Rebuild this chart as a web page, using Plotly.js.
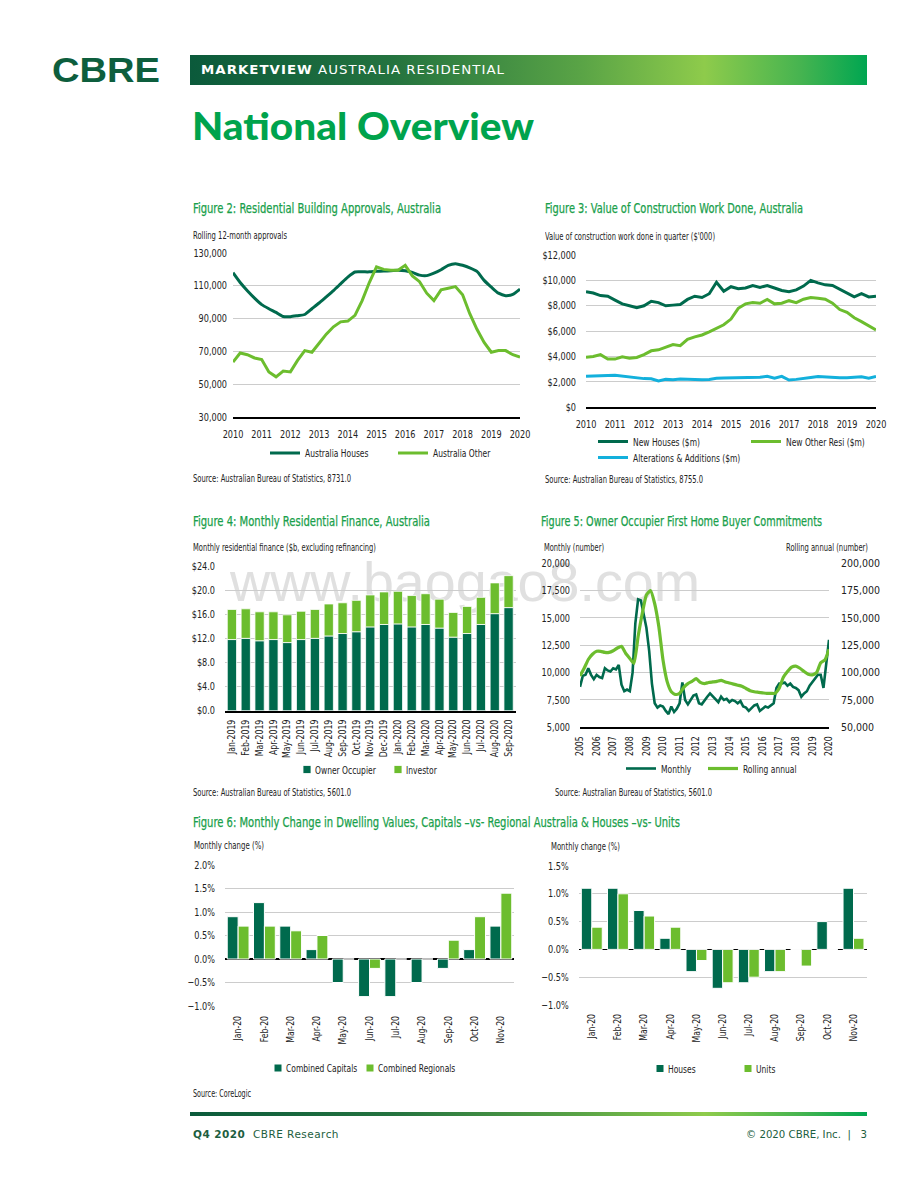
<!DOCTYPE html>
<html><head><meta charset="utf-8">
<script src="https://cdn.plot.ly/plotly-3.0.1.min.js"></script>
<style>
html,body{margin:0;padding:0;background:#fff;}
#page{position:relative;width:920px;height:1191px;overflow:hidden;font-family:"DejaVu Sans Condensed","Liberation Sans Narrow",sans-serif;color:#222;}
.t{position:absolute;white-space:nowrap;transform-origin:0 50%;}
.ttl{color:#19a04b;font-size:14px;line-height:18px;-webkit-text-stroke:0.25px #19a04b;}
.sub{font-size:10.5px;line-height:14px;color:#222;}
.grad{position:absolute;background:linear-gradient(90deg,#0b5a3b 0%,#24733f 30%,#5aa446 58%,#8ecb4b 76%,#47b450 90%,#00a651 100%);}
#plot{position:absolute;left:0;top:0;width:920px;height:1191px;}
</style></head>
<body>
<div id="page">
  <div class="t" id="wm" style="left:230px;top:549px;font:55px/66px 'Liberation Sans',Arial,sans-serif;color:#e0e0e0;" data-w="470">www.baogao8.com</div>
  <div id="plot"></div>

  <div class="t" style="left:52px;top:48px;font:bold 35px/44px 'Liberation Sans',Arial,sans-serif;color:#0d5e3d;" data-w="108">CBRE</div>
  <div class="grad" style="left:190px;top:55px;width:677px;height:30px;"></div>
  <div class="t" style="left:201px;top:62px;font:13px/16px 'DejaVu Sans','Liberation Sans',sans-serif;color:#fff;letter-spacing:1px;" data-w="304"><b>MARKETVIEW</b> AUSTRALIA RESIDENTIAL</div>
  <div class="t" style="left:192px;top:101px;font:900 38px/48px Lato,'DejaVu Sans',sans-serif;color:#00a34c;" data-w="342">National Overview</div>

  <div class="t ttl" style="left:193px;top:199px;" data-w="248">Figure 2: Residential Building Approvals, Australia</div>
  <div class="t sub" style="left:193px;top:228px;" data-w="94">Rolling 12-month approvals</div>
  <div class="t sub" style="left:193px;top:471px;" data-w="158">Source: Australian Bureau of Statistics, 8731.0</div>

  <div class="t ttl" style="left:545px;top:199px;" data-w="258">Figure 3: Value of Construction Work Done, Australia</div>
  <div class="t sub" style="left:545px;top:229px;" data-w="170">Value of construction work done in quarter ($'000)</div>
  <div class="t sub" style="left:545px;top:472px;" data-w="158">Source: Australian Bureau of Statistics, 8755.0</div>

  <div class="t ttl" style="left:193px;top:512px;" data-w="237">Figure 4: Monthly Residential Finance, Australia</div>
  <div class="t sub" style="left:193px;top:540px;" data-w="183">Monthly residential finance ($b, excluding refinancing)</div>
  <div class="t sub" style="left:193px;top:785px;" data-w="158">Source: Australian Bureau of Statistics, 5601.0</div>

  <div class="t ttl" style="left:541px;top:512px;" data-w="281">Figure 5: Owner Occupier First Home Buyer Commitments</div>
  <div class="t sub" style="left:544px;top:540px;" data-w="60">Monthly (number)</div>
  <div class="t sub" style="left:786px;top:540px;" data-w="82">Rolling annual (number)</div>
  <div class="t sub" style="left:555px;top:785px;" data-w="157">Source: Australian Bureau of Statistics, 5601.0</div>

  <div class="t ttl" style="left:193px;top:813px;" data-w="487">Figure 6: Monthly Change in Dwelling Values, Capitals –vs- Regional Australia &amp; Houses –vs- Units</div>
  <div class="t sub" style="left:194px;top:838px;" data-w="70">Monthly change (%)</div>
  <div class="t sub" style="left:551px;top:839px;" data-w="69">Monthly change (%)</div>
  <div class="t sub" style="left:193px;top:1086px;" data-w="58">Source: CoreLogic</div>

  <div class="grad" style="left:190px;top:1112px;width:677px;height:4px;"></div>
  <div class="t" style="left:193px;top:1128px;font:11px/14px 'DejaVu Sans','Liberation Sans',sans-serif;color:#1d5e40;letter-spacing:0.5px;" data-w="146"><b>Q4 2020</b>&nbsp; CBRE Research</div>
  <div class="t" style="left:746px;top:1128px;font:11px/14px 'DejaVu Sans','Liberation Sans',sans-serif;color:#1d5e40;" data-w="121">© 2020 CBRE, Inc. &nbsp;|&nbsp;&nbsp; 3</div>
</div>

<script>
// ---------------- DATA ----------------
// Figure 2: Residential Building Approvals (rolling 12-month), quarterly from 2010
const f2Start = 2010, f2Step = 0.25;
const f2Years = [2010,2011,2012,2013,2014,2015,2016,2017,2018,2019,2020];
const f2Houses = [118000,112000,107000,102500,98500,96000,93800,91300,91200,91800,92500,96000,99500,103300,107100,111200,115300,118400,118500,118500,118800,119000,119200,119500,119200,118200,116500,116200,117700,119800,122500,123500,122500,121000,118800,113300,109200,105500,104000,104800,108000];
const f2Other = [63500,69000,68000,66000,65000,57500,54500,58000,57500,64500,70500,69500,75000,80500,85000,88000,88500,92000,101000,112000,121500,120000,119500,119500,122500,116000,112500,105500,101000,107500,108500,109500,104500,93000,83500,75500,69500,70500,70500,68000,66500];

// Figure 3: Value of Construction Work Done ($m), quarterly from 2010
const f3Start = 2010, f3Step = 0.25;
const f3Years = [2010,2011,2012,2013,2014,2015,2016,2017,2018,2019,2020];
const f3NewHouses = [9100,9000,8800,8750,8450,8150,8000,7850,8000,8350,8250,8000,8050,8100,8500,8750,8650,8950,9850,9150,9500,9350,9400,9600,9450,9600,9400,9200,9100,9250,9550,10000,9800,9650,9600,9300,9050,8700,8950,8700,8750];
const f3NewOther = [3950,4000,4150,3800,3800,3980,3870,3930,4150,4450,4530,4770,4950,4850,5350,5550,5700,5950,6200,6500,6950,7800,8150,8250,8200,8500,8150,8200,8400,8250,8520,8650,8600,8520,8200,7700,7480,7050,6750,6450,6100];
const f3Alterations = [2450,2450,2480,2500,2520,2450,2350,2300,2260,2250,2080,2200,2170,2220,2200,2180,2180,2200,2280,2300,2320,2300,2300,2360,2360,2450,2300,2440,2150,2200,2300,2350,2420,2380,2320,2320,2320,2340,2400,2300,2420];

// Figure 4: Monthly Residential Finance ($b)
const f4Months = ['Jan-2019','Feb-2019','Mar-2019','Apr-2019','May-2019','Jun-2019','Jul-2019','Aug-2019','Sep-2019','Oct-2019','Nov-2019','Dec-2019','Jan-2020','Feb-2020','Mar-2020','Apr-2020','May-2020','Jun-2020','Jul-2020','Aug-2020','Sep-2020'];
const f4Owner = [11.8,12.0,11.6,11.8,11.3,11.8,12.0,12.4,12.8,13.1,13.9,14.3,14.4,13.9,14.3,13.7,12.2,12.8,14.3,16.1,17.1];
const f4Investor = [5.0,4.9,4.8,4.6,4.6,4.7,4.8,5.3,5.1,5.2,5.3,5.4,5.4,5.2,5.1,4.8,4.1,4.5,4.5,5.1,5.3];

// Figure 5: First Home Buyer Commitments
const f5Years = [2005,2006,2007,2008,2009,2010,2011,2012,2013,2014,2015,2016,2017,2018,2019,2020];
const f5MonthlyStart = 2005, f5MonthlyStep = 1/6;
const f5Monthly = [8700,9700,9800,10400,9800,9400, 9800,9600,9500,10400,10200,10100, 10400,10300,10700,8900,8300,8450, 8300,10000,14500,16700,16600,15500, 14100,12000,9000,7200,6800,7000, 6900,6500,6200,6900,6400,6700, 7200,9100,7500,7100,7500,7900, 8000,7200,7100,7500,7800,8100, 7800,7600,7300,7800,7500,7600, 7300,7500,7400,7200,7400,6900, 6800,6500,6800,7000,7100,6500, 6700,6900,6800,7000,7200,8600, 9000,9000,9100,8800,9000,8700, 8600,8400,7800,8100,8300,8800, 9100,9400,9800,9800,8600,10800, 13000];
const f5RollingStart = 2005, f5RollingStep = 0.25;
const f5Rolling = [97000,104000,112000,116800, 119500,119500,118500,118500, 120000,122500,124000,117700, 113000,108500,133000,154000, 171000,175000,163000,142000, 111500,91800,82600,80000, 81000,86500,90000,92000, 94500,91000,90000,91000, 91500,92000,93000,91500, 90500,89500,88500,87500, 85500,83500,82500,82000, 81500,81000,81000,81000, 85700,95700,101000,105000, 106000,104000,101000,98500, 98000,100000,109000,111500, 121500];

// Figure 6: Monthly change in dwelling values (%)
const f6Months = ['Jan-20','Feb-20','Mar-20','Apr-20','May-20','Jun-20','Jul-20','Aug-20','Sep-20','Oct-20','Nov-20'];
const f6Capitals = [0.9,1.2,0.7,0.2,-0.5,-0.8,-0.8,-0.5,-0.2,0.2,0.7];
const f6Regionals = [0.7,0.7,0.6,0.5,0,-0.2,0,0,0.4,0.9,1.4];
const f6Houses = [1.1,1.1,0.7,0.2,-0.4,-0.7,-0.6,-0.4,0,0.5,1.1];
const f6Units = [0.4,1.0,0.6,0.4,-0.2,-0.6,-0.5,-0.4,-0.3,0,0.2];

// ---------------- STYLE ----------------
const DARK = '#006a4d', LIGHT = '#6cbd2e', CYAN = '#13b0dc';
const W = 920, H = 1191;
const X = p => p / W, Y = p => 1 - p / H;
const FONT = '"DejaVu Sans Condensed", "Liberation Sans Narrow", sans-serif';
const tickFont = {family: FONT, size: 10.5, color: '#222'};
const GRID = '#cccccc';
const COND_TICK = 0.86, COND_LEG = 0.8;   // horizontal condensing of chart texts

function yax(top, bot, extra) {
  return Object.assign({domain: [Y(bot), Y(top)], showgrid: true, gridcolor: GRID, gridwidth: 1,
    zeroline: false, showline: false, ticks: '', tickfont: tickFont, fixedrange: true, automargin: false}, extra);
}
function xax(l, r, extra) {
  return Object.assign({domain: [X(l), X(r)], showgrid: false, zeroline: false, showline: true,
    linecolor: '#000', linewidth: 2, ticks: '', tickfont: tickFont, fixedrange: true, automargin: false}, extra);
}
function leg(px, py) {
  return {xref: 'paper', yref: 'paper', x: X(px), y: Y(py), xanchor: 'left', yanchor: 'middle',
    orientation: 'h', bgcolor: 'rgba(0,0,0,0)', borderwidth: 0,
    font: {family: FONT, size: 10.5, color: '#222'}};
}

const data = [
  {type:'scatter', mode:'lines', x0:f2Start, dx:f2Step, y:f2Houses, name:'Australia Houses', xaxis:'x', yaxis:'y',
   line:{color:DARK, width:3, shape:'spline', smoothing:0.6}, legend:'legend'},
  {type:'scatter', mode:'lines', x0:f2Start, dx:f2Step, y:f2Other, name:'Australia Other', xaxis:'x', yaxis:'y',
   line:{color:LIGHT, width:3}, legend:'legend2'},
  {type:'scatter', mode:'lines', x0:f3Start, dx:f3Step, y:f3NewHouses, name:'New Houses ($m)', xaxis:'x2', yaxis:'y2',
   line:{color:DARK, width:3}, legend:'legend3'},
  {type:'scatter', mode:'lines', x0:f3Start, dx:f3Step, y:f3NewOther, name:'New Other Resi ($m)', xaxis:'x2', yaxis:'y2',
   line:{color:LIGHT, width:3}, legend:'legend4'},
  {type:'scatter', mode:'lines', x0:f3Start, dx:f3Step, y:f3Alterations, name:'Alterations & Additions ($m)', xaxis:'x2', yaxis:'y2',
   line:{color:CYAN, width:3}, legend:'legend5'},
  {type:'bar', x:f4Months, y:f4Owner, name:'Owner Occupier', xaxis:'x3', yaxis:'y3', offset:-0.335, width:0.67,
   marker:{color:DARK, line:{color:'#ffffff', width:0.8}}, legend:'legend6'},
  {type:'bar', x:f4Months, y:f4Investor, base:f4Owner, name:'Investor', xaxis:'x3', yaxis:'y3', offset:-0.335, width:0.67,
   marker:{color:LIGHT, line:{color:'#ffffff', width:0.8}}, legend:'legend7'},
  {type:'scatter', mode:'lines', x0:f5MonthlyStart, dx:f5MonthlyStep, y:f5Monthly, name:'Monthly', xaxis:'x4', yaxis:'y4',
   line:{color:DARK, width:2.6}, legend:'legend8'},
  {type:'scatter', mode:'lines', x0:f5RollingStart, dx:f5RollingStep, y:f5Rolling, name:'Rolling annual', xaxis:'x4', yaxis:'y5',
   line:{color:LIGHT, width:3.2, shape:'spline', smoothing:0.5}, legend:'legend9'},
  {type:'bar', x:f6Months, y:f6Capitals, name:'Combined Capitals', xaxis:'x5', yaxis:'y6', offset:-0.415, width:0.415,
   marker:{color:DARK, line:{color:'#ffffff', width:1}}, legend:'legend10'},
  {type:'bar', x:f6Months, y:f6Regionals, name:'Combined Regionals', xaxis:'x5', yaxis:'y6', offset:0, width:0.415,
   marker:{color:LIGHT, line:{color:'#ffffff', width:1}}, legend:'legend11'},
  {type:'bar', x:f6Months, y:f6Houses, name:'Houses', xaxis:'x6', yaxis:'y7', offset:-0.4, width:0.4,
   marker:{color:DARK, line:{color:'#ffffff', width:1}}, legend:'legend12'},
  {type:'bar', x:f6Months, y:f6Units, name:'Units', xaxis:'x6', yaxis:'y7', offset:0, width:0.4,
   marker:{color:LIGHT, line:{color:'#ffffff', width:1}}, legend:'legend13'}
];
const legendNames = data.map(d => d.name);
const barNames = data.filter(d => d.type === 'bar').map(d => d.name);

const rot = Object.assign({}, tickFont, {size: 10});
const layout = {
  width: W, height: H,
  margin: {l:0, r:0, t:0, b:0, pad:0},
  paper_bgcolor: 'rgba(0,0,0,0)', plot_bgcolor: 'rgba(0,0,0,0)',
  font: {family: FONT, size: 10.5, color: '#222'},
  barmode: 'overlay', hovermode: false, showlegend: true,
  xaxis: xax(233, 520, {anchor:'y', range:[2010,2020], tickvals:f2Years, ticklabelstandoff:6}),
  yaxis: yax(253, 417, {anchor:'x', range:[30000,130000], tick0:30000, dtick:20000, tickformat:',', ticklabelstandoff:5}),
  xaxis2: xax(586, 876, {anchor:'y2', range:[2010,2020], tickvals:f3Years, ticklabelstandoff:6}),
  yaxis2: yax(255, 407.3, {anchor:'x2', range:[0,12000], dtick:2000, tickformat:',', tickprefix:'$', ticklabelstandoff:9}),
  xaxis3: xax(225, 515.5, {anchor:'y3', type:'category', tickangle:-90, tickfont:rot, ticklabelstandoff:3}),
  yaxis3: yax(566, 710.7, {anchor:'x3', range:[0,24], dtick:4, tickformat:'.1f', tickprefix:'$', ticklabelstandoff:9}),
  xaxis4: xax(580, 829, {anchor:'y4', range:[2005,2020], tickvals:f5Years, tickangle:-90, tickfont:rot, ticklabelstandoff:3}),
  yaxis4: yax(563.3, 727.3, {anchor:'x4', range:[5000,20000], dtick:2500, tick0:5000, tickformat:',', ticklabelstandoff:9}),
  yaxis5: yax(563.3, 727.3, {anchor:'x4', overlaying:'y4', side:'right', showgrid:false, range:[50000,200000], dtick:25000, tick0:50000, tickformat:',', ticklabelstandoff:11}),
  xaxis5: xax(225, 514, {anchor:'y6', type:'category', tickangle:-90, tickfont:rot, showline:false, ticklabelstandoff:7}),
  yaxis6: yax(865, 1006, {anchor:'x5', range:[-1,2], dtick:0.5, tick0:-1, tickformat:'.1f', ticksuffix:'%',
    zeroline:true, zerolinecolor:'#000', zerolinewidth:1.5, ticklabelstandoff:9}),
  xaxis6: xax(578.7, 866.6, {anchor:'y7', type:'category', tickangle:-90, tickfont:rot, showline:false, ticklabelstandoff:6}),
  yaxis7: yax(866, 1005, {anchor:'x6', range:[-1,1.5], dtick:0.5, tick0:-1, tickformat:'.1f', ticksuffix:'%',
    zeroline:true, zerolinecolor:'#000', zerolinewidth:1.5, ticklabelstandoff:9}),
  legend: leg(265, 453), legend2: leg(393, 453),
  legend3: leg(593, 441.5), legend4: leg(746, 441.5), legend5: leg(593, 457.5),
  legend6: leg(287, 769.5), legend7: leg(378, 769.5),
  legend8: leg(621, 768.5), legend9: leg(703, 768.5),
  legend10: leg(258, 1068), legend11: leg(350, 1068),
  legend12: leg(640, 1068.5), legend13: leg(728, 1068.5)
};

const gd = document.getElementById('plot');
function setAttr(el, k, v) { if (el.getAttribute(k) !== v) el.setAttribute(k, v); }
function condenseChartText() {
  gd.querySelectorAll('text').forEach(txt => {
    const s = (txt.textContent || '').trim();
    const isLeg = legendNames.indexOf(s) >= 0;
    const isTick = !!txt.closest('.xaxislayer-above, .yaxislayer-above');
    if (isLeg && barNames.indexOf(s) >= 0) {
      // compact bar legend entry: smaller square, text closer to it
      let g = txt.parentNode;
      while (g && g !== gd && !g.querySelector('path')) g = g.parentNode;
      if (g && g !== gd) g.querySelectorAll('path').forEach(p => {
        const d = p.getAttribute('d') || '';
        if (d.indexOf('M6,6') === 0) setAttr(p, 'd', 'M4,4H-4V-4H4Z');
      });
      setAttr(txt, 'x', '28');
    }
    if ((isLeg || isTick) && !txt.getAttribute('data-c')) {
      const L = txt.getComputedTextLength();
      if (L > 0) {
        txt.setAttribute('data-c', '1');
        txt.setAttribute('lengthAdjust', 'spacingAndGlyphs');
        txt.setAttribute('textLength', (L * (isLeg ? COND_LEG : COND_TICK)).toFixed(2));
      }
    }
  });
}
let busy = false;
const mo = new MutationObserver(() => {
  if (busy) return;
  busy = true;
  try { condenseChartText(); } finally { busy = false; }
});
mo.observe(gd, {childList: true, subtree: true, attributes: true, attributeFilter: ['x', 'd', 'transform']});

const pr = Plotly.newPlot(gd, data, layout, {staticPlot: true, displayModeBar: false});
condenseChartText();
pr.then(() => { condenseChartText(); setTimeout(condenseChartText, 50); });

function fit() {
  document.querySelectorAll('[data-w]').forEach(el => {
    el.style.transform = 'none';
    const w = el.getBoundingClientRect().width;
    const target = parseFloat(el.getAttribute('data-w'));
    if (w > 0) el.style.transform = 'scaleX(' + (target / w).toFixed(4) + ')';
  });
}
if (document.fonts && document.fonts.ready) document.fonts.ready.then(fit);
fit();
</script>
</body></html>
